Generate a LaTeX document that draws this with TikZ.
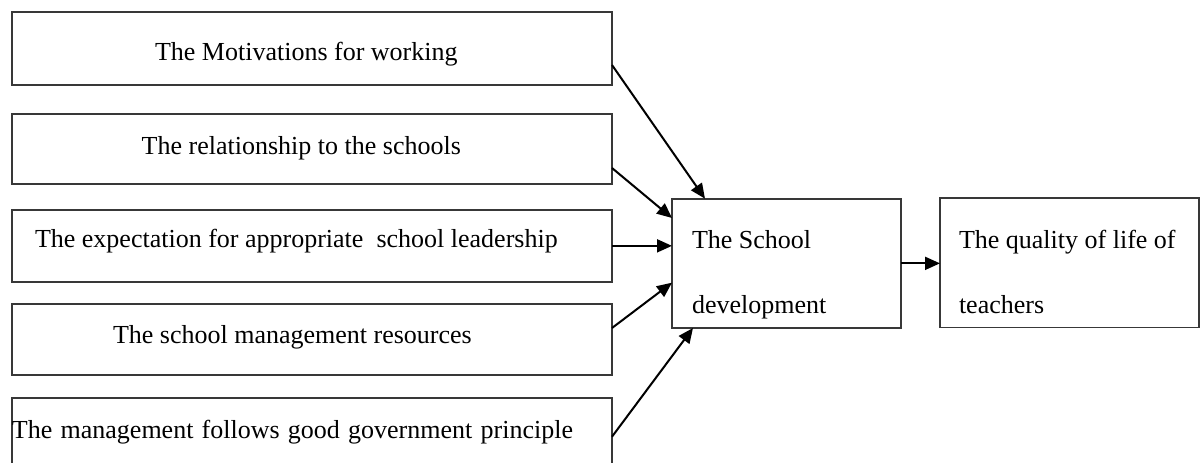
\documentclass[tikz,border=0pt]{standalone}
\usepackage{fontspec}
\setmainfont{Liberation Serif}
\usetikzlibrary{arrows.meta}
\begin{document}
\begin{tikzpicture}[x=1pt,y=-1pt,
  box/.style={draw=black!78,line width=1.6pt,rectangle,inner sep=0pt,outer sep=0pt,anchor=north west},
  txt/.style={anchor=base west,inner sep=0pt,outer sep=0pt,font=\fontsize{26}{30}\selectfont},
  arr/.style={line width=2pt,-{Triangle[length=15pt,width=13pt]}}]
\useasboundingbox (0,0) rectangle (1200,463);
% left boxes
\node[box,minimum width=600.3,minimum height=73] (b1) at (11.7,12) {};
\node[box,minimum width=600.3,minimum height=70] (b2) at (11.7,114) {};
\node[box,minimum width=600.3,minimum height=71.7] (b3) at (11.7,210) {};
\node[box,minimum width=600.3,minimum height=71] (b4) at (11.7,304) {};
\node[box,minimum width=600.3,minimum height=82] (b5) at (11.7,398) {};
% middle and right boxes
\node[box,minimum width=229,minimum height=129.3] (mid) at (672,198.7) {};
\node[box,minimum width=259,minimum height=129.5] (rgt) at (940,198) {};
% texts
\node[txt] (t1) at (155,60) {The Motivations for working};
\node[txt] (t2) at (141.7,154) {The relationship to the schools};
\node[txt] (t3) at (35,247) {The expectation for appropriate\hspace{6.5pt} school leadership};
\node[txt] (t4) at (113,343) {The school management resources};
\node[txt] (t5) at (12,438) {\makebox[561pt][s]{The management follows good government principle}};
\node[txt] (tm1) at (692,248) {The School};
\node[txt] (tm2) at (692,313) {development};
\node[txt] (tr1) at (959,248) {The quality of life of};
\node[txt] (tr2) at (959,313) {teachers};
% arrows
\draw[arr] ([yshift=-16.5pt]b1.east) -- ([xshift=33pt]mid.north west);
\draw[arr] ([yshift=-19pt]b2.east) -- ([yshift=-19.3pt]mid.north west);
\draw[arr] (b3.east) -- (b3.east -| mid.west);
\draw[arr] ([yshift=11.5pt]b4.east) -- ([yshift=-19.3pt]mid.west);
\draw[arr] ([yshift=2.3pt]b5.east) -- ([xshift=21pt]mid.south west);
\draw[arr] (mid.east) -- (mid.east -| rgt.west);
\end{tikzpicture}
\end{document}
